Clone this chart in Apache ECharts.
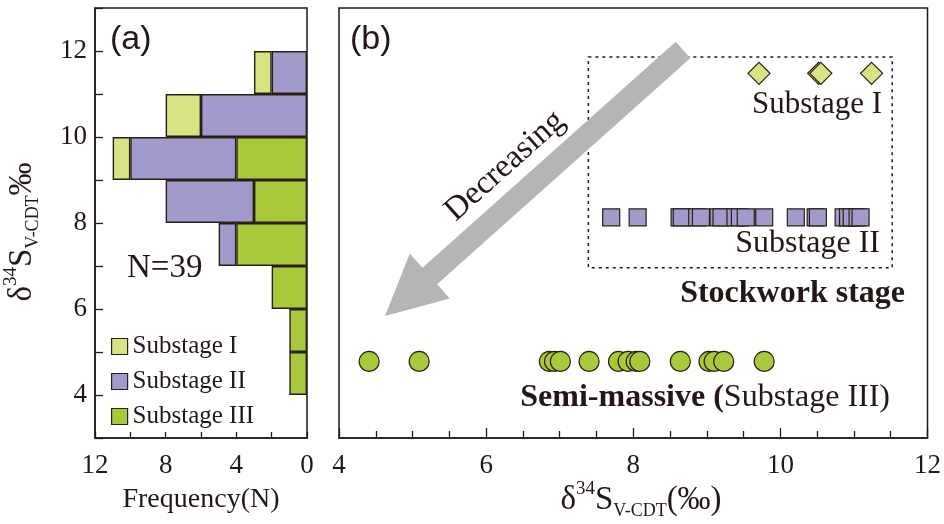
<!DOCTYPE html>
<html><head><meta charset="utf-8">
<script src="https://cdn.jsdelivr.net/npm/echarts@6/dist/echarts.min.js"></script>
<style>html,body{margin:0;padding:0;background:#fff}#c{width:944px;height:524px}</style>
</head><body><div id="c"></div>
<script>
// ---- data ----
const binLabels = ['3-4','4-5','5-6','6-7','7-8','8-9','9-10','10-11','11-12','12-13'];
const histIII = [0,1,1,2,4,3,4,0,0,0];
const histII  = [0,0,0,0,1,5,6,6,2,0];
const histI   = [0,0,0,0,0,0,1,2,1,0];
const ptsI   = [9.71,10.52,10.55,11.24];
const ptsII  = [7.70,8.06,8.63,8.66,8.87,8.92,9.16,9.20,9.39,9.45,9.53,9.78,10.21,10.48,10.51,10.86,10.92,10.97,11.05,11.09];
const ptsIII = [4.41,5.09,6.86,6.93,7.01,7.40,7.80,7.93,8.04,8.09,8.64,9.03,9.10,9.23,9.78];
const rowI = 11.48, rowII = 8.13, rowIII = 4.78;
const boxCorners = [[7.39,11.86],[11.52,6.96]];
const freqTicks = [0,12];
const deltaTicks = [4,12];

// ---- style ----
const INK = '#231815';
const C1 = '#d8e384', C2 = '#a29acb', C3 = '#a8c939', EDGE = '#2a1f17';
const SERIF = '"Liberation Serif","Times New Roman",serif';
const SANS = '"Liberation Sans",Arial,sans-serif';
const nz = a => a.map(v => v === 0 ? '-' : v);

const chart = echarts.init(document.getElementById('c'), null, {renderer:'canvas'});
const barStyle = c => ({color:c, borderColor:EDGE, borderWidth:1.4});
const ptStyle = c => ({color:c, borderColor:EDGE, borderWidth:1.2, opacity:1});
const richTitle = {
  m:{fontFamily:SERIF, fontSize:33, lineHeight:40, verticalAlign:'middle', fill:INK},
  sup:{fontFamily:SERIF, fontSize:19, lineHeight:40, verticalAlign:'top', fill:INK},
  sub:{fontFamily:SERIF, fontSize:18, lineHeight:40, verticalAlign:'bottom', fill:INK}
};

const option = {
  backgroundColor:'#fff',
  animation:false,
  grid:[
    {left:95, top:8, width:212, height:430, show:true, borderColor:INK, borderWidth:1.5, containLabel:false},
    {left:339, top:8, width:592, height:430, show:true, borderColor:INK, borderWidth:1.5, containLabel:false}
  ],
  xAxis:[
    {gridIndex:0, type:'value', inverse:true, min:freqTicks[0], max:freqTicks[1], interval:4,
     axisLine:{show:true, lineStyle:{color:INK, width:1.5}},
     axisTick:{show:true, inside:true, length:6, lineStyle:{color:INK, width:1.3}},
     minorTick:{show:true, splitNumber:2, length:6, lineStyle:{color:INK, width:1.3}},
     splitLine:{show:false},
     axisLabel:{fontFamily:SERIF, fontSize:27, color:INK, margin:14}},
    {gridIndex:1, type:'value', min:deltaTicks[0], max:deltaTicks[1], interval:2,
     axisLine:{show:true, lineStyle:{color:INK, width:1.5}},
     axisTick:{show:true, inside:true, length:10, lineStyle:{color:INK, width:1.3}},
     minorTick:{show:true, splitNumber:4, length:7, lineStyle:{color:INK, width:1.3}},
     splitLine:{show:false},
     axisLabel:{fontFamily:SERIF, fontSize:27, color:INK, margin:14}}
  ],
  yAxis:[
    {gridIndex:0, type:'category', position:'right', data:binLabels, show:false, boundaryGap:true},
    {gridIndex:0, type:'value', position:'left', min:3, max:13, interval:1,
     axisLine:{show:true, onZero:false, lineStyle:{color:INK, width:1.5}},
     axisTick:{show:true, inside:true, length:8, lineStyle:{color:INK, width:1.3}},
     splitLine:{show:false},
     axisLabel:{fontFamily:SERIF, fontSize:27, color:INK, margin:8,
       formatter: v => (v % 2 === 0 && v >= 4 && v <= 12) ? String(v) : ''}},
    {gridIndex:1, type:'value', min:3, max:13, show:false}
  ],
  legend:{
    orient:'vertical', left:106, top:329, itemWidth:16, itemHeight:16, itemGap:10,
    textStyle:{fontFamily:SERIF, fontSize:25, color:INK},
    selectedMode:false,
    data:[
      {name:'Substage I', icon:'rect', itemStyle:{color:C1, borderColor:EDGE, borderWidth:1.2}},
      {name:'Substage II', icon:'rect', itemStyle:{color:C2, borderColor:EDGE, borderWidth:1.2}},
      {name:'Substage III', icon:'rect', itemStyle:{color:C3, borderColor:EDGE, borderWidth:1.2}}
    ]
  },
  series:[
    {name:'Substage III', type:'bar', xAxisIndex:0, yAxisIndex:0, stack:'h', barCategoryGap:'0%', data:nz(histIII), itemStyle:barStyle(C3)},
    {name:'Substage II', type:'bar', xAxisIndex:0, yAxisIndex:0, stack:'h', barCategoryGap:'0%', data:nz(histII), itemStyle:barStyle(C2)},
    {name:'Substage I', type:'bar', xAxisIndex:0, yAxisIndex:0, stack:'h', barCategoryGap:'0%', data:nz(histI), itemStyle:barStyle(C1)},
    {name:'pII', type:'scatter', xAxisIndex:1, yAxisIndex:2, symbol:'rect', symbolSize:17,
     data:ptsII.map(x => [x,rowII]), itemStyle:ptStyle(C2),
     markArea:{silent:true, itemStyle:{color:'rgba(0,0,0,0)', borderColor:INK, borderWidth:1.5, borderType:[3,4]},
       data:[[{coord:boxCorners[0]},{coord:boxCorners[1]}]]}},
    {name:'pI', type:'scatter', xAxisIndex:1, yAxisIndex:2, symbol:'diamond', symbolSize:22,
     data:ptsI.map(x => [x,rowI]), itemStyle:ptStyle(C1)},
    {name:'pIII', type:'scatter', xAxisIndex:1, yAxisIndex:2, symbol:'circle', symbolSize:20,
     data:ptsIII.map(x => [x,rowIII]), itemStyle:ptStyle(C3)}
  ],
  graphic:[
    {type:'polygon', z:5, shape:{points:[[690.3,58.2],[437.1,284.2],[449.8,298.4],[385,316],[409.8,253.6],[422.5,267.8],[675.7,41.8]]},
     style:{fill:'#b4b5b5'}},
    {type:'text', z:6, x:505, y:166, rotation:0.73,
     style:{text:'Decreasing', font:'33px '+SERIF, fill:INK, align:'center', verticalAlign:'middle'}},
    {type:'text', z:6, x:110, y:40, style:{text:'(a)', font:'34px '+SANS, fill:INK, align:'left', verticalAlign:'middle'}},
    {type:'text', z:6, x:350, y:40, style:{text:'(b)', font:'34px '+SANS, fill:INK, align:'left', verticalAlign:'middle'}},
    {type:'text', z:6, x:127, y:268, style:{text:'N=39', font:'33px '+SERIF, fill:INK, align:'left', verticalAlign:'middle'}},
    {type:'text', z:6, x:882, y:105, style:{text:'Substage I', font:'31px '+SERIF, fill:INK, align:'right', verticalAlign:'middle'}},
    {type:'text', z:6, x:880, y:244, style:{text:'Substage II', font:'32px '+SERIF, fill:INK, align:'right', verticalAlign:'middle'}},
    {type:'text', z:6, x:905, y:294, style:{text:'Stockwork stage', font:'bold 32px '+SERIF, fill:INK, align:'right', verticalAlign:'middle'}},
    {type:'text', z:6, x:890, y:398, style:{text:'{b|Semi-massive (}{n|Substage III)}', align:'right', verticalAlign:'middle',
      rich:{b:{fontFamily:SERIF, fontSize:32, fontWeight:'bold', fill:INK}, n:{fontFamily:SERIF, fontSize:32, fill:INK}}}},
    {type:'text', z:6, x:201, y:500, style:{text:'Frequency(N)', font:'28px '+SERIF, fill:INK, align:'center', verticalAlign:'middle'}},
    {type:'text', z:6, x:641, y:500, style:{text:'{m|δ}{sup|34}{m|S}{sub|V-CDT}{m|(‰)}', align:'center', verticalAlign:'middle', rich:richTitle}},
    {type:'text', z:6, x:22, y:232, rotation:Math.PI/2, style:{text:'{m|δ}{sup|34}{m|S}{sub|V-CDT}{m|‰}', align:'center', verticalAlign:'middle', rich:richTitle}}
  ]
};
chart.setOption(option);
</script></body></html>
